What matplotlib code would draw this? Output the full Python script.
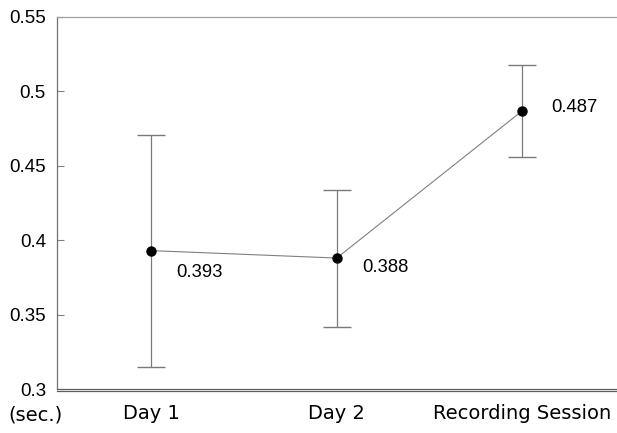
import matplotlib
matplotlib.use("Agg")
import matplotlib.pyplot as plt
from matplotlib.lines import Line2D

categories = ["Day 1", "Day 2", "Recording Session"]
means = [0.393, 0.388, 0.487]
errors = [0.078, 0.046, 0.031]
value_labels = ["0.393", "0.388", "0.487"]
yticks = [0.3, 0.35, 0.4, 0.45, 0.5, 0.55]
ytick_labels = ["0.3", "0.35", "0.4", "0.45", "0.5", "0.55"]

fig = plt.figure(figsize=(6.17, 4.33), dpi=100)
ax = fig.add_axes([57/617, 1-389/433, 1-57/617, (389-17)/433])

x = list(range(len(categories)))
ax.plot(x, means, color="#808080", lw=0.8, zorder=2)
ax.errorbar(x, means, yerr=errors, fmt="none", ecolor="#7a7a7a", elinewidth=0.9,
            capsize=10.2, capthick=1.0, zorder=2)
ax.plot(x, means, "o", color="black", ms=6.5, zorder=3)

offsets = [(25, -22), (26, -9), (29, 3)]
for xi, yi, lab, off in zip(x, means, value_labels, offsets):
    ax.annotate(lab, (xi, yi), xytext=off, textcoords="offset pixels",
                ha="left", va="center", fontsize=13.3, family="Liberation Sans")

ax.set_xlim(-0.507, 2.51)
ax.set_ylim(0.3, 0.55)
ax.set_yticks(yticks)
ax.set_yticklabels(ytick_labels, family="Liberation Sans", fontsize=13.5)
ax.set_xticks(x)
ax.set_xticklabels(categories, family="DejaVu Sans", fontsize=14)
ax.tick_params(axis="y", direction="in", length=5, color="#808080", pad=8)
ax.tick_params(axis="x", length=0, pad=11)

ax.spines["right"].set_visible(False)
ax.spines["top"].set_color("#a0a0a0")
ax.spines["top"].set_linewidth(0.9)
ax.spines["left"].set_color("#707070")
ax.spines["left"].set_linewidth(0.9)
ax.spines["bottom"].set_color("#606060")
ax.spines["bottom"].set_linewidth(0.9)

fig.add_artist(Line2D([57/617, 1], [1-391/433, 1-391/433], color="#606060", lw=0.9))
fig.text(35/617, 1-415/433, "(sec.)", ha="center", va="center", fontsize=14,
         family="DejaVu Sans")

fig.savefig("out.png", dpi=100)
